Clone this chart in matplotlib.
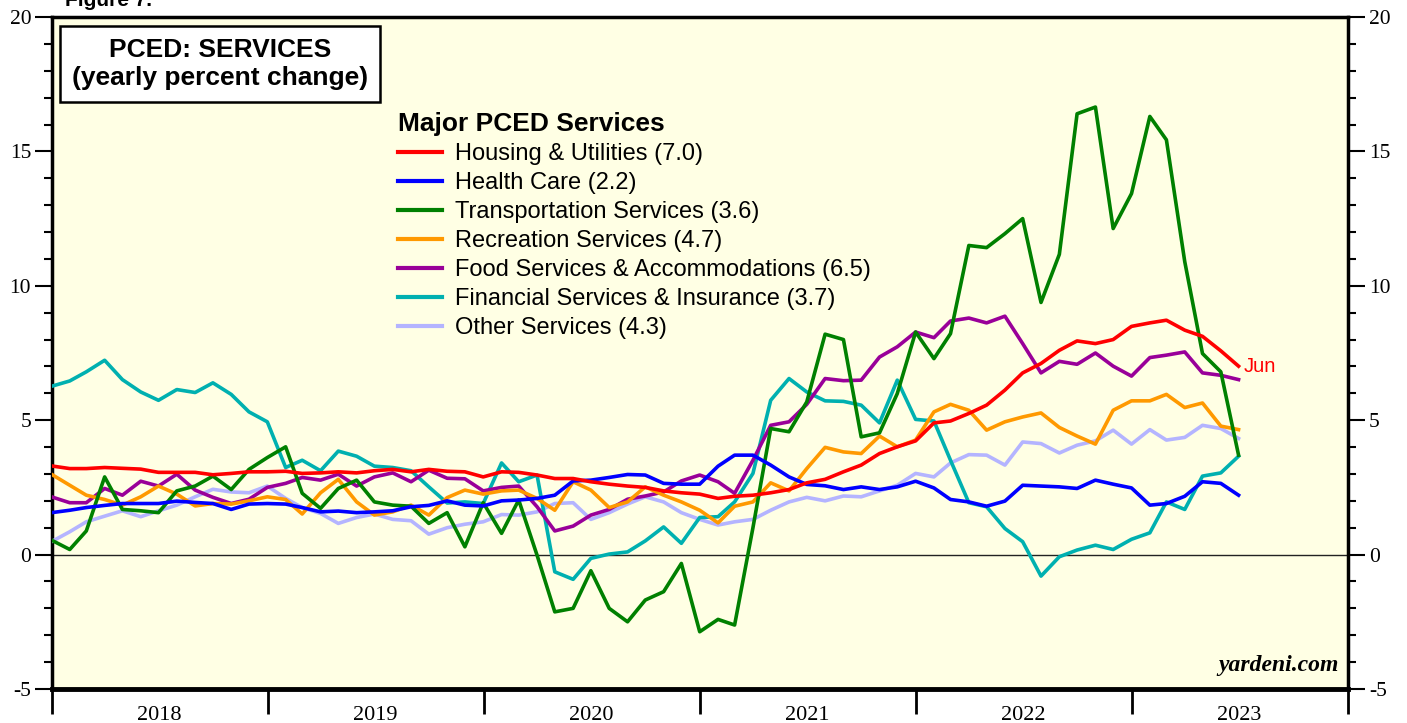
import numpy as np
import pandas as pd
import matplotlib
matplotlib.use('Agg')
import matplotlib.pyplot as plt
import matplotlib.dates as mdates

plt.rcParams['axes.unicode_minus'] = False

# Monthly yearly % change, Dec 2017 .. Jun 2023
dates = pd.date_range('2017-12-31', periods=67, freq='ME')

housing = [3.30, 3.20, 3.20, 3.24, 3.21, 3.18, 3.06, 3.06, 3.06, 2.97, 3.02, 3.08,
           3.08, 3.10, 3.02, 3.04, 3.08, 3.04, 3.12, 3.17, 3.08, 3.17, 3.10,
           3.08, 2.89, 3.08, 3.06, 2.96, 2.83, 2.83, 2.71, 2.62, 2.55, 2.50,
           2.37, 2.30, 2.25, 2.09, 2.17, 2.21, 2.30, 2.42, 2.67, 2.80, 3.08,
           3.33, 3.76, 4.01, 4.23, 4.90, 4.97, 5.25, 5.56, 6.12, 6.76, 7.11,
           7.60, 7.95, 7.85, 8.00, 8.49, 8.62, 8.72, 8.35, 8.12, 7.58, 7.01]

health = [1.56, 1.65, 1.75, 1.83, 1.90, 1.90, 1.90, 1.99, 1.94, 1.90, 1.68, 1.88,
          1.90, 1.88, 1.75, 1.59, 1.62, 1.56, 1.59, 1.63, 1.78, 1.83, 2.00,
          1.84, 1.81, 2.00, 2.03, 2.09, 2.21, 2.74, 2.77, 2.87, 2.98, 2.96,
          2.65, 2.62, 2.62, 3.29, 3.70, 3.70, 3.33, 2.89, 2.61, 2.56, 2.42,
          2.52, 2.42, 2.52, 2.73, 2.48, 2.05, 1.96, 1.80, 1.99, 2.58, 2.55,
          2.52, 2.46, 2.77, 2.62, 2.48, 1.84, 1.90, 2.17, 2.71, 2.65, 2.21]

transport = [0.54, 0.19, 0.88, 2.89, 1.68, 1.63, 1.56, 2.37, 2.55, 2.92, 2.42, 3.17,
             3.61, 4.01, 2.28, 1.72, 2.46, 2.77, 1.96, 1.84, 1.80, 1.16, 1.56,
             0.29, 1.93, 0.79, 2.03, -0.02, -2.13, -2.00, -0.60, -2.00, -2.50, -1.69,
             -1.38, -0.33, -2.87, -2.41, -2.62, 1.00, 4.69, 4.57, 5.68, 8.20, 8.00,
             4.38, 4.53, 5.99, 8.28, 7.29, 8.22, 11.50, 11.42, 11.94, 12.50, 9.38,
             11.17, 16.40, 16.65, 12.13, 13.43, 16.30, 15.43, 10.90, 7.48, 6.80, 3.70]

recreation = [2.99, 2.58, 2.21, 2.05, 1.84, 2.15, 2.55, 2.25, 1.81, 1.90, 1.88, 2.00,
              2.15, 2.05, 1.51, 2.30, 2.80, 1.96, 1.47, 1.59, 1.84, 1.47, 2.12,
              2.40, 2.25, 2.37, 2.40, 2.09, 1.65, 2.71, 2.40, 1.75, 1.96, 2.52,
              2.21, 1.96, 1.65, 1.18, 1.80, 1.96, 2.67, 2.37, 3.20, 3.99, 3.82,
              3.76, 4.41, 4.01, 4.26, 5.31, 5.59, 5.37, 4.63, 4.94, 5.12, 5.27,
              4.73, 4.41, 4.11, 5.37, 5.72, 5.72, 5.96, 5.47, 5.64, 4.78, 4.65]

food = [2.15, 1.93, 1.93, 2.46, 2.21, 2.73, 2.55, 2.99, 2.40, 2.13, 1.90, 2.06,
        2.50, 2.65, 2.87, 2.77, 2.99, 2.55, 2.89, 3.04, 2.71, 3.14, 2.84,
        2.82, 2.37, 2.50, 2.55, 1.78, 0.88, 1.06, 1.47, 1.68, 2.06, 2.18,
        2.33, 2.74, 2.96, 2.71, 2.28, 3.51, 4.81, 4.94, 5.59, 6.55, 6.47,
        6.49, 7.35, 7.73, 8.28, 8.07, 8.69, 8.80, 8.62, 8.87, 7.85, 6.76,
        7.19, 7.08, 7.50, 7.01, 6.64, 7.33, 7.42, 7.54, 6.76, 6.67, 6.51]

financial = [6.26, 6.46, 6.80, 7.23, 6.51, 6.05, 5.74, 6.14, 6.03, 6.39, 5.96, 5.31,
             4.94, 3.24, 3.51, 3.12, 3.85, 3.66, 3.29, 3.24, 3.12, 2.52, 1.92,
             1.96, 1.90, 3.41, 2.71, 2.96, -0.64, -0.92, -0.14, 0.02, 0.10, 0.51,
             1.03, 0.42, 1.38, 1.41, 1.96, 3.02, 5.74, 6.55, 6.05, 5.72, 5.70,
             5.56, 4.90, 6.49, 5.03, 4.97, 3.51, 1.93, 1.78, 0.97, 0.48, -0.80,
             -0.08, 0.17, 0.35, 0.19, 0.57, 0.81, 1.96, 1.68, 2.92, 3.04, 3.66]

other = [0.48, 0.85, 1.22, 1.43, 1.63, 1.41, 1.63, 1.84, 2.15, 2.43, 2.33, 2.30,
         2.55, 2.09, 1.75, 1.53, 1.16, 1.38, 1.51, 1.31, 1.26, 0.76, 1.00,
         1.13, 1.22, 1.49, 1.47, 1.59, 1.90, 1.93, 1.31, 1.56, 1.88, 2.15,
         1.96, 1.56, 1.31, 1.10, 1.22, 1.31, 1.65, 1.96, 2.13, 2.00, 2.18,
         2.15, 2.37, 2.58, 3.02, 2.89, 3.41, 3.72, 3.70, 3.33, 4.19, 4.13,
         3.78, 4.07, 4.23, 4.63, 4.11, 4.65, 4.26, 4.36, 4.81, 4.69, 4.32]

names = ['Housing & Utilities (7.0)', 'Health Care (2.2)', 'Transportation Services (3.6)',
         'Recreation Services (4.7)', 'Food Services & Accommodations (6.5)',
         'Financial Services & Insurance (3.7)', 'Other Services (4.3)']
series = [housing, health, transport, recreation, food, financial, other]
colors = ['#ff0000', '#0000ff', '#008000', '#ff9900', '#990099', '#00b0b0', '#b4b4ff']

sans = ['Liberation Sans', 'DejaVu Sans']
serif = ['Liberation Serif', 'DejaVu Serif']

fig = plt.figure(figsize=(14.07, 7.23), dpi=100)
ax = fig.add_axes([52/1407, 1 - 689/723, 1296/1407, 672/723])
ax.set_facecolor('#ffffe4')

lines = []
for s, c, n, z in zip(series, colors, names, range(7, 0, -1)):
    ln, = ax.plot(dates, s, color=c, lw=2.6, label=n, zorder=z + 2)
    lines.append(ln)

ax.axhline(0, color='#222222', lw=1.0, zorder=1)

ax.set_ylim(-5, 20)
ax.set_yticks(np.arange(-5, 21, 5))
ax.set_yticks(np.arange(-5, 21, 1), minor=True)
ax.set_xlim(pd.Timestamp('2018-01-01'), pd.Timestamp('2024-01-01'))

ax.xaxis.set_major_locator(mdates.YearLocator())
ax.xaxis.set_major_formatter(plt.NullFormatter())
ax.xaxis.set_minor_locator(mdates.MonthLocator(bymonth=7, bymonthday=1))
ax.xaxis.set_minor_formatter(mdates.DateFormatter('%Y'))

ax.tick_params(axis='y', which='both', direction='out', left=True, right=True,
               labelleft=True, labelright=True, width=1.5, labelsize=15.5, pad=3)
ax.tick_params(axis='y', which='major', length=12)
ax.tick_params(axis='y', which='minor', length=6)
ax.tick_params(axis='x', which='major', direction='out', length=18, width=2)
ax.tick_params(axis='x', which='minor', length=0, labelsize=16, pad=12)
for lab in ax.get_xticklabels(minor=True) + ax.get_yticklabels():
    lab.set_family(serif)

for sp in ax.spines.values():
    sp.set_linewidth(2.5)
ax.spines['bottom'].set_linewidth(3.5)

# title box
ax.text(0.1296, 0.930, 'PCED: SERVICES\n(yearly percent change)', transform=ax.transAxes,
        ha='center', va='center', fontsize=19, fontweight='bold', family=sans,
        linespacing=1.25,
        bbox=dict(boxstyle='square,pad=0.45', facecolor='white', edgecolor='black', lw=1.8))

leg = ax.legend(handles=lines, loc='upper left', bbox_to_anchor=(0.267, 0.859),
                frameon=False, title='Major PCED Services', alignment='left',
                prop={'family': sans, 'size': 17}, handlelength=1.85,
                handletextpad=0.55, labelspacing=0.3, borderaxespad=0, borderpad=0)
leg.get_title().set_fontweight('bold')
leg.get_title().set_fontsize(19)
leg.get_title().set_family(sans)
for h in leg.get_lines():
    h.set_linewidth(3)

ax.annotate('Jun', xy=(dates[-1], housing[-1]), xytext=(4, 0), textcoords='offset points',
            color='#ff0000', fontsize=14.5, family=sans, va='center', ha='left')

ax.text(0.993, 0.02, 'yardeni.com', transform=ax.transAxes, ha='right', va='bottom',
        fontsize=17, fontweight='bold', fontstyle='italic', family=serif)

fig.text(65/1407, 1.0, 'Figure 7.', ha='left', va='center', fontsize=15,
         fontweight='bold', family=sans)

fig.savefig('out.png', dpi=100)
